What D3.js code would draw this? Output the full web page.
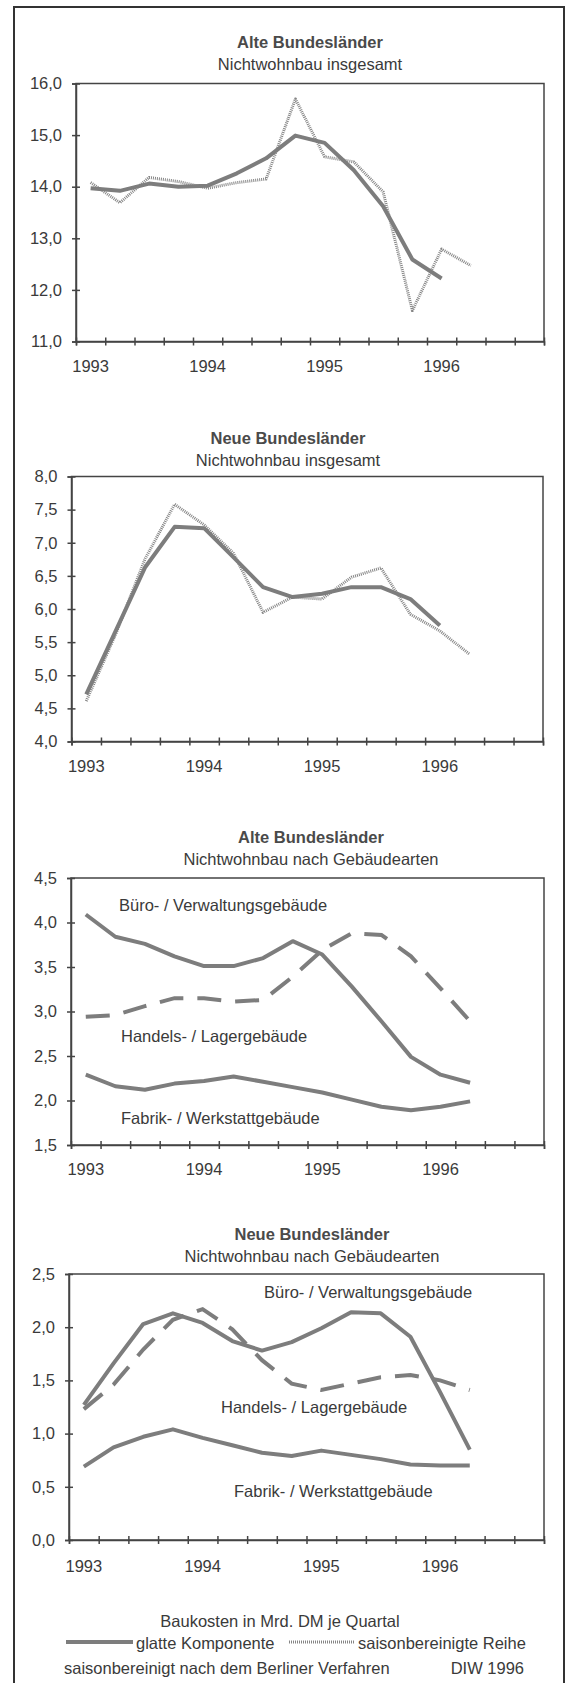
<!doctype html>
<html>
<head>
<meta charset="utf-8">
<title>Baukosten Nichtwohnbau</title>
<script src="https://d3js.org/d3.v7.min.js"></script>
<style>
  body { margin: 0; background: #fff; }
  svg { display: block; }
  text { font-family: "Liberation Sans", Arial, sans-serif; font-size: 16.5px; fill: #3a3a3a; }
  .title { font-weight: bold; fill: #4a4a4a; }
  .axis text { font-family: "Liberation Sans", Arial, sans-serif; font-size: 16.5px; fill: #3a3a3a; }
  .axis path, .axis line { stroke: #444; stroke-width: 1.5; }
  .glatt { fill: none; stroke: #7d7d7d; stroke-width: 4; stroke-linejoin: round; }
  .saison { fill: none; stroke: #858585; stroke-width: 3; stroke-dasharray: 1,1; stroke-linejoin: round; }
  .dash { fill: none; stroke: #7d7d7d; stroke-width: 4; stroke-dasharray: 24,14; }
</style>
</head>
<body>
<script>
// quarters 1993 I .. 1996 IV
var quarters = ["1993 I","1993 II","1993 III","1993 IV","1994 I","1994 II","1994 III","1994 IV",
                "1995 I","1995 II","1995 III","1995 IV","1996 I","1996 II","1996 III","1996 IV"];
var yearTicks = ["1993 I","1994 I","1995 I","1996 I"];

// Alte Bundeslaender, Nichtwohnbau insgesamt
var alteGlatt  = [13.97, 13.92, 14.06, 14.0, 14.02, 14.26, 14.55, 14.99, 14.85, 14.32, 13.62, 12.59, 12.22];
var alteSaison = [14.08, 13.69, 14.18, 14.1, 13.97, 14.08, 14.15, 15.7, 14.58, 14.48, 13.9, 11.6, 12.79, 12.47];
var alteTicks  = [11, 12, 13, 14, 15, 16];

// Neue Bundeslaender, Nichtwohnbau insgesamt
var neueGlatt  = [4.71, 5.67, 6.63, 7.24, 7.22, 6.78, 6.33, 6.18, 6.23, 6.33, 6.33, 6.15, 5.75];
var neueSaison = [4.61, 5.62, 6.76, 7.58, 7.27, 6.84, 5.95, 6.18, 6.15, 6.48, 6.62, 5.92, 5.67, 5.32];
var neueTicks  = [4, 4.5, 5, 5.5, 6, 6.5, 7, 7.5, 8];

// Alte Bundeslaender nach Gebaeudearten
var alteBuero  = [4.09, 3.84, 3.76, 3.62, 3.51, 3.51, 3.6, 3.79, 3.64, 3.28, 2.89, 2.49, 2.29, 2.2];
var alteHandel = [2.94, 2.96, 3.06, 3.15, 3.15, 3.11, 3.13, 3.39, 3.69, 3.88, 3.86, 3.62, 3.26, 2.89];
var alteFabrik = [2.29, 2.16, 2.12, 2.19, 2.22, 2.27, 2.21, 2.15, 2.09, 2.01, 1.93, 1.89, 1.93, 1.99];
var alteArtTicks = [1.5, 2, 2.5, 3, 3.5, 4, 4.5];

// Neue Bundeslaender nach Gebaeudearten
var neueBuero  = [1.27, 1.66, 2.03, 2.13, 2.04, 1.87, 1.78, 1.86, 1.99, 2.14, 2.13, 1.91, 1.39, 0.85];
var neueHandel = [1.23, 1.46, 1.79, 2.07, 2.17, 1.98, 1.69, 1.47, 1.41, 1.47, 1.53, 1.55, 1.5, 1.41];
var neueFabrik = [0.69, 0.87, 0.97, 1.04, 0.96, 0.89, 0.82, 0.79, 0.84, 0.8, 0.76, 0.71, 0.7, 0.7];
var neueArtTicks = [0, 0.5, 1, 1.5, 2, 2.5];

var de = d3.formatLocale({decimal: ",", thousands: ".", grouping: [3], currency: ["", " DM"]});
var fmt = de.format(".1f");

var svg = d3.select("body").append("svg").attr("width", 566).attr("height", 1683);

// outer frame
svg.append("path").attr("d", "M14,1683V7H564V1683")
  .attr("fill", "none").attr("stroke", "#333").attr("stroke-width", 2);

function panel(p) {
  var x = d3.scaleBand().domain(quarters).range([p.left, p.right]);
  var xt = d3.scaleLinear().domain([0, quarters.length]).range([p.left, p.right]);
  var y = d3.scaleLinear().domain([p.ticks[0], p.ticks[p.ticks.length - 1]]).range([p.bottom, p.top]);

  svg.append("text").attr("class", "title").attr("x", p.cx).attr("y", p.titleY)
    .attr("text-anchor", "middle").text(p.title);
  svg.append("text").attr("x", p.cx).attr("y", p.titleY + 22)
    .attr("text-anchor", "middle").text(p.subtitle);

  svg.append("rect").attr("x", p.left).attr("y", p.top)
    .attr("width", p.right - p.left).attr("height", p.bottom - p.top)
    .attr("fill", "none").attr("stroke", "#444").attr("stroke-width", 1.5);

  var ya = svg.append("g").attr("class", "axis").attr("transform", "translate(" + p.left + ",0)")
    .call(d3.axisLeft(y).tickValues(p.ticks).tickSize(4).tickPadding(10).tickFormat(fmt));
  ya.selectAll(".tick line").attr("x1", 4);

  var xa = svg.append("g").attr("class", "axis").attr("transform", "translate(0," + p.bottom + ")")
    .call(d3.axisBottom(xt).tickValues(d3.range(quarters.length + 1)).tickSize(4).tickFormat(""));
  xa.selectAll(".tick line").attr("y1", -4);

  var yl = svg.append("g").attr("class", "axis").attr("transform", "translate(0," + p.bottom + ")")
    .call(d3.axisBottom(x).tickValues(yearTicks).tickSize(0).tickPadding(p.yearPad)
      .tickFormat(function(q) { return q.slice(0, 4); }));
  yl.select(".domain").remove();

  var line = d3.line()
    .x(function(d, i) { return x(quarters[i]) + x.bandwidth() / 2; })
    .y(function(d) { return y(d); });

  p.series.forEach(function(s) {
    svg.append("path").datum(s.values).attr("class", s.cls).attr("d", line);
  });

  (p.labels || []).forEach(function(l) {
    svg.append("text").attr("x", l.x).attr("y", l.y).text(l.text);
  });
}

panel({
  left: 76, right: 544, top: 83.5, bottom: 341.5, ticks: alteTicks, yearPad: 19,
  cx: 310, titleY: 47.5, title: "Alte Bundesländer", subtitle: "Nichtwohnbau insgesamt",
  series: [{values: alteSaison, cls: "saison"}, {values: alteGlatt, cls: "glatt"}]
});

panel({
  left: 71.5, right: 543, top: 476.5, bottom: 741.5, ticks: neueTicks, yearPad: 19,
  cx: 288, titleY: 443.5, title: "Neue Bundesländer", subtitle: "Nichtwohnbau insgesamt",
  series: [{values: neueSaison, cls: "saison"}, {values: neueGlatt, cls: "glatt"}]
});

panel({
  left: 71, right: 544, top: 878, bottom: 1145, ticks: alteArtTicks, yearPad: 18,
  cx: 311, titleY: 842.5, title: "Alte Bundesländer", subtitle: "Nichtwohnbau nach Gebäudearten",
  series: [{values: alteBuero, cls: "glatt"}, {values: alteHandel, cls: "dash"}, {values: alteFabrik, cls: "glatt"}],
  labels: [
    {text: "Büro- / Verwaltungsgebäude", x: 119, y: 911},
    {text: "Handels- / Lagergebäude", x: 121, y: 1042},
    {text: "Fabrik- / Werkstattgebäude", x: 121, y: 1124}
  ]
});

panel({
  left: 69, right: 544, top: 1274, bottom: 1540, ticks: neueArtTicks, yearPad: 20,
  cx: 312, titleY: 1239.5, title: "Neue Bundesländer", subtitle: "Nichtwohnbau nach Gebäudearten",
  series: [{values: neueBuero, cls: "glatt"}, {values: neueHandel, cls: "dash"}, {values: neueFabrik, cls: "glatt"}],
  labels: [
    {text: "Büro- /  Verwaltungsgebäude", x: 264, y: 1298},
    {text: "Handels- / Lagergebäude", x: 221, y: 1413},
    {text: "Fabrik- / Werkstattgebäude", x: 234, y: 1497}
  ]
});

// legend
svg.append("text").attr("x", 280).attr("y", 1627).attr("text-anchor", "middle")
  .text("Baukosten in Mrd. DM je Quartal");
svg.append("line").attr("class", "glatt").attr("x1", 66).attr("x2", 133).attr("y1", 1642).attr("y2", 1642);
svg.append("text").attr("x", 136).attr("y", 1649).text("glatte Komponente");
svg.append("line").attr("class", "saison").attr("x1", 289).attr("x2", 354).attr("y1", 1642).attr("y2", 1642);
svg.append("text").attr("x", 358).attr("y", 1649).text("saisonbereinigte Reihe");
svg.append("text").attr("x", 64).attr("y", 1674).text("saisonbereinigt nach dem Berliner Verfahren");
svg.append("text").attr("x", 524).attr("y", 1674).attr("text-anchor", "end").text("DIW 1996");
</script>
</body>
</html>
